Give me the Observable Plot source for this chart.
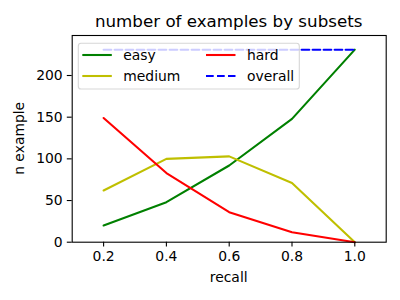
<!DOCTYPE html>
<html><head><meta charset="utf-8">
<script src="https://cdn.jsdelivr.net/npm/d3@7"></script>
<script src="https://cdn.jsdelivr.net/npm/@observablehq/plot@0.6"></script>
<style>body{margin:0;background:#fff}</style>
</head><body><div id="chart"></div>
<script>
const recall = [0.2, 0.4, 0.6, 0.8, 1.0];
const easy = [20, 48, 92, 148, 231];
const medium = [62, 100, 103, 71, 0];
const hard = [149, 83, 36, 12, 0];
const overall = [231, 231, 231, 231, 231];
const seriesNames = ["easy", "medium", "hard", "overall"];
const seriesColors = ["#008000", "#bfbf00", "#ff0000", "#0000ff"];
const xTicks = [0.2, 0.4, 0.6, 0.8, 1.0];
const yTicks = [0, 50, 100, 150, 200];

const seriesVals = [easy, medium, hard, overall];
const rows = seriesNames.map((name, i) => recall.map((r, j) => ({recall: r, n: seriesVals[i][j], name})));

const W = 400, H = 300;
const mL = 71.7, mR = 14.3, mT = 35, mB = 58.3;

const lineMark = (i, extra = {}) => Plot.line(rows[i], {x: "recall", y: "n", stroke: seriesColors[i], strokeWidth: 2.08, ...extra});

const plot = Plot.plot({
  width: W, height: H,
  marginLeft: mL, marginRight: mR, marginTop: mT, marginBottom: mB,
  style: {fontFamily: "DejaVu Sans", fontSize: "13.9px", background: "#fff", color: "#000"},
  x: {domain: [0.1, 1.1], ticks: xTicks, tickFormat: d3.format(".1f"), label: null},
  y: {domain: [0, 248], ticks: yTicks, label: null},
  marks: [
    lineMark(0),
    lineMark(1),
    lineMark(2),
    lineMark(3, {strokeDasharray: "7.7,3.3"}),
    Plot.frame({stroke: "#000", strokeWidth: 1.1}),
    Plot.axisX({ticks: xTicks, tickFormat: d3.format(".1f"), tickSize: 4.9, tickPadding: 4.5, strokeWidth: 1.1, label: null}),
    Plot.axisY({ticks: yTicks, tickSize: 4.9, tickPadding: 4.6, strokeWidth: 1.1, label: null})
  ]
});
document.getElementById("chart").appendChild(plot);

const svg = d3.select(plot);
const font = "DejaVu Sans";
svg.append("text").attr("x", (mL + W - mR) / 2).attr("y", 27).attr("text-anchor", "middle")
  .attr("font-family", font).attr("font-size", "16.7px").attr("fill", "#000").text("number of examples by subsets");
svg.append("text").attr("x", (mL + W - mR) / 2).attr("y", 282).attr("text-anchor", "middle")
  .attr("font-family", font).attr("font-size", "13.9px").attr("fill", "#000").text("recall");
svg.append("text").attr("transform", `translate(24,${(mT + H - mB) / 2}) rotate(-90)`).attr("text-anchor", "middle")
  .attr("font-family", font).attr("font-size", "13.9px").attr("fill", "#000").text("n example");

// legend
const lg = svg.append("g");
lg.append("rect").attr("x", 78.3).attr("y", 43.3).attr("width", 221).attr("height", 45.7).attr("rx", 2.8)
  .attr("fill", "rgba(255,255,255,0.8)").attr("stroke", "rgba(204,204,204,0.8)").attr("stroke-width", 1.1);
const pos = [[82.3, 55], [82.3, 76], [206, 55], [206, 76]];
seriesNames.forEach((name, i) => {
  const [x, y] = pos[i];
  lg.append("line").attr("x1", x).attr("x2", x + 29.5).attr("y1", y).attr("y2", y)
    .attr("stroke", seriesColors[i]).attr("stroke-width", 2.08)
    .attr("stroke-dasharray", name === "overall" ? "7.7,3.3" : null);
  lg.append("text").attr("x", x + 41).attr("y", y + 5).attr("text-anchor", "start")
    .attr("font-family", font).attr("font-size", "13.9px")
    .attr("fill", "#000").text(name);
});
</script></body></html>
